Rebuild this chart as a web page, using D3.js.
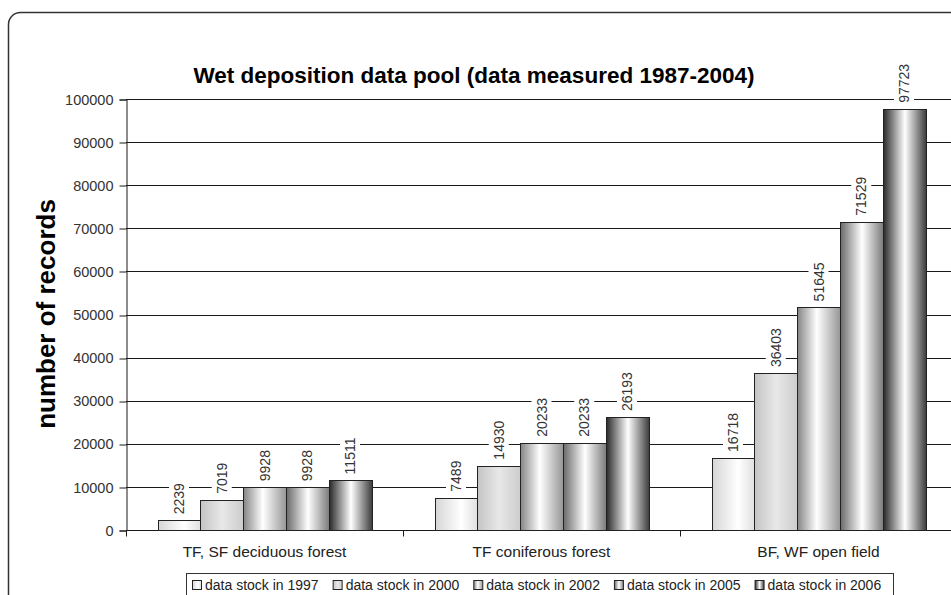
<!DOCTYPE html>
<html>
<head>
<meta charset="utf-8">
<script src="https://cdn.jsdelivr.net/npm/d3@7"></script>
<style>
  body { margin: 0; background: #fff; }
  text { font-family: "Liberation Sans", Arial, sans-serif; }
</style>
</head>
<body>
<div id="chart"></div>
<script>
// data
var categories = ["TF, SF deciduous forest", "TF coniferous forest", "BF, WF open field"];
var seriesNames = ["data stock in 1997", "data stock in 2000", "data stock in 2002", "data stock in 2005", "data stock in 2006"];
var stock1997 = [2239, 7489, 16718];
var stock2000 = [7019, 14930, 36403];
var stock2002 = [9928, 20233, 51645];
var stock2005 = [9928, 20233, 71529];
var stock2006 = [11511, 26193, 97723];
var yTicks = [0, 10000, 20000, 30000, 40000, 50000, 60000, 70000, 80000, 90000, 100000];

var seriesValues = [stock1997, stock2000, stock2002, stock2005, stock2006];

// horizontal shading of each series, light to dark
var shades = [
    [["0%", "#d6d6d6"], ["60%", "#ffffff"], ["100%", "#dedede"]],
    [["0%", "#c4c4c4"], ["50%", "#e8e8e8"], ["100%", "#cccccc"]],
    [["0%", "#858585"], ["45%", "#ffffff"], ["100%", "#959595"]],
    [["0%", "#6a6a6a"], ["50%", "#ffffff"], ["100%", "#7a7a7a"]],
    [["0%", "#2a2a2a"], ["50%", "#ffffff"], ["100%", "#3a3a3a"]]
];

var width = 951, height = 595;
var margin = {top: 99, bottom: 65, left: 126};

var svg = d3.select("#chart")
    .append("svg")
    .attr("width", width)
    .attr("height", height);

var defs = svg.append("defs");
shades.forEach(function(s, i){
    var g = defs.append("linearGradient")
        .attr("id", "grad" + i)
        .attr("x1", "0%").attr("y1", "0%")
        .attr("x2", "100%").attr("y2", "0%");
    s.forEach(function(st){
        g.append("stop").attr("offset", st[0]).attr("stop-color", st[1]);
    });
});

// outer rounded frame (runs off to the right and bottom)
svg.append("rect")
    .attr("x", 8.5).attr("y", 12.5)
    .attr("width", 1100).attr("height", 700)
    .attr("rx", 12)
    .attr("fill", "#fff")
    .attr("stroke", "#333")
    .attr("stroke-width", 1.5);

var x0 = d3.scaleBand()
    .domain(categories)
    .range([margin.left, 957])
    .padding(0);

var x1 = d3.scaleBand()
    .domain(seriesNames)
    .range([0, x0.bandwidth()])
    .paddingInner(0)
    .paddingOuter(0.74);

var yScale = d3.scaleLinear()
    .domain([0, 100000])
    .range([height - margin.bottom, margin.top]);

// gridlines
svg.append("g")
    .selectAll("line")
    .data(yTicks.slice(1))
    .enter()
    .append("line")
    .attr("x1", margin.left).attr("x2", width)
    .attr("y1", function(d){ return Math.round(yScale(d)) + 0.5; })
    .attr("y2", function(d){ return Math.round(yScale(d)) + 0.5; })
    .attr("stroke", "#1a1a1a")
    .attr("stroke-width", 1);

// y axis
var yAxis = svg.append("g")
    .attr("transform", "translate(" + (margin.left + 0.5) + ",0.5)")
    .call(d3.axisLeft(yScale).tickValues(yTicks).tickSize(7).tickPadding(6).tickFormat(d3.format("d")));
yAxis.select(".domain").attr("stroke", "#1a1a1a");
yAxis.selectAll(".tick line").attr("stroke", "#1a1a1a")
    .attr("transform", function(d){ return "translate(0," + (Math.round(yScale(d)) - yScale(d)) + ")"; });
yAxis.selectAll(".tick text")
    .attr("font-size", "14.5px")
    .attr("fill", "#333")
    .style("font-family", "'Liberation Sans', Arial, sans-serif");

// x axis
var xAxisY = Math.round(yScale(0)) + 0.5;
svg.append("line")
    .attr("x1", margin.left).attr("x2", width)
    .attr("y1", xAxisY).attr("y2", xAxisY)
    .attr("stroke", "#1a1a1a");
svg.append("g")
    .selectAll("line")
    .data(categories)
    .enter()
    .append("line")
    .attr("x1", function(d){ return Math.round(x0(d)) + 0.5; })
    .attr("x2", function(d){ return Math.round(x0(d)) + 0.5; })
    .attr("y1", xAxisY).attr("y2", xAxisY + 6)
    .attr("stroke", "#1a1a1a");

svg.append("g")
    .selectAll("text")
    .data(categories)
    .enter()
    .append("text")
    .attr("x", function(d){ return x0(d) + x0.bandwidth() / 2; })
    .attr("y", 557)
    .attr("text-anchor", "middle")
    .attr("font-size", "15.5px")
    .attr("fill", "#222")
    .text(function(d){ return d; });

// bars
var rows = [];
seriesValues.forEach(function(vals, s){
    vals.forEach(function(v, c){
        rows.push({series: s, cat: categories[c], value: v});
    });
});

svg.append("g")
    .selectAll("rect")
    .data(rows)
    .enter()
    .append("rect")
    .attr("x", function(d){ return Math.round(x0(d.cat) + x1(seriesNames[d.series])) + 0.5; })
    .attr("y", function(d){ return Math.round(yScale(d.value)) + 0.5; })
    .attr("width", Math.round(x1.bandwidth()))
    .attr("height", function(d){ return Math.round(yScale(0)) - Math.round(yScale(d.value)); })
    .attr("fill", function(d){ return "url(#grad" + d.series + ")"; })
    .attr("stroke", "#222")
    .attr("stroke-width", 1);

// value labels, rotated, with white backing that cuts the gridlines
var labels = svg.append("g")
    .selectAll("g")
    .data(rows)
    .enter()
    .append("g")
    .attr("transform", function(d){
        var cx = x0(d.cat) + x1(seriesNames[d.series]) + x1.bandwidth() / 2;
        return "translate(" + cx + "," + (yScale(d.value) - 6) + ") rotate(-90)";
    });

labels.append("rect")
    .attr("class", "bg")
    .attr("fill", "#fff");

labels.append("text")
    .attr("x", 0).attr("y", 0)
    .attr("dy", "0.36em")
    .attr("font-size", "14px")
    .attr("fill", "#333")
    .text(function(d){ return d.value; });

labels.each(function(){
    var g = d3.select(this);
    var w = g.select("text").node().getComputedTextLength();
    g.select("rect")
        .attr("x", -3).attr("y", -10)
        .attr("width", w + 6).attr("height", 20);
});

// title
svg.append("text")
    .attr("x", 474)
    .attr("y", 83)
    .attr("text-anchor", "middle")
    .attr("font-size", "22.5px")
    .attr("font-weight", "bold")
    .attr("fill", "#000")
    .text("Wet deposition data pool (data measured 1987-2004)");

// y label
svg.append("text")
    .attr("transform", "translate(46,314) rotate(-90)")
    .attr("text-anchor", "middle")
    .attr("dy", "0.36em")
    .attr("font-size", "26px")
    .attr("font-weight", "bold")
    .attr("fill", "#000")
    .text("number of records");

// legend
var legend = svg.append("g");
legend.append("rect")
    .attr("x", 186.5).attr("y", 573.5)
    .attr("width", 707).attr("height", 40)
    .attr("fill", "#fff")
    .attr("stroke", "#333");

var lx = 192;
seriesNames.forEach(function(name, i){
    legend.append("rect")
        .attr("x", lx + 0.5).attr("y", 580.5)
        .attr("width", 9).attr("height", 9)
        .attr("fill", "url(#grad" + i + ")")
        .attr("stroke", "#222");
    var t = legend.append("text")
        .attr("x", lx + 13)
        .attr("y", 590)
        .attr("font-size", "14px")
        .attr("fill", "#222")
        .text(name);
    lx += 13 + t.node().getComputedTextLength() + 14;
});
</script>
</body>
</html>
